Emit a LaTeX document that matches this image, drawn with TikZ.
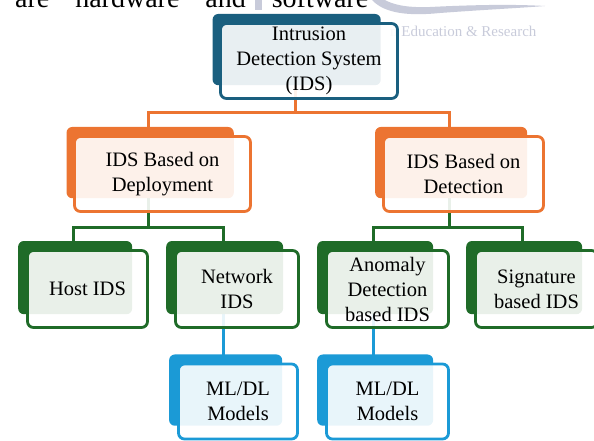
\documentclass[tikz,border=0pt]{standalone}
\usepackage{fontspec}
\setmainfont{Liberation Serif}
\usetikzlibrary{shadows,backgrounds}

\definecolor{idsteal}{RGB}{26,95,127}
\definecolor{idsorange}{RGB}{236,116,49}
\definecolor{idsgreen}{RGB}{31,107,40}
\definecolor{idsblue}{RGB}{27,154,214}
\definecolor{wmgray}{RGB}{200,203,218}

\tikzset{
  box/.style={draw=#1, line width=2.8pt, rounded corners=6pt,
    fill=white, fill opacity=.9, text opacity=1, text=black,
    align=center, inner sep=0pt, font=\fontsize{20.5}{25}\selectfont,
    general shadow={fill=#1, draw=none, fill opacity=1,
      shadow xshift=-13pt, shadow yshift=12pt, shadow scale=.95}},
  link/.style={draw=#1, line width=3pt},
}

\begin{document}
\begin{tikzpicture}[x=1pt, y=-1pt]
    \useasboundingbox (0,0) rectangle (594,441);

    % page behind the chart
    \node[anchor=base west, inner sep=0pt, font=\fontsize{28}{32}\selectfont] (intro) at (15,7.5)
        {\makebox[353pt][s]{are hardware and software}};
    \fill[wmgray] (255,0) rectangle (262,10);
    \fill[wmgray] (372,0) .. controls (385,14) and (410,16) .. (440,13)
        .. controls (480,10) and (520,8) .. (545,6)
        .. controls (510,4) and (470,5) .. (430,7)
        .. controls (405,8) and (392,4) .. (385,0) -- cycle;
    \node[anchor=base west, inner sep=0pt, text=wmgray, font=\fontsize{15}{17}\selectfont] (wm) at (390,37)
        {n Education \& Research};

    % draw boxes
    \node[box=idsteal, minimum width=177pt, minimum height=75pt] (ids) at (309,61) {Intrusion\\Detection System\\(IDS)};

    \node[box=idsorange, minimum width=176pt, minimum height=75pt] (dep) at (162.5,174) {IDS Based on\\Deployment};
    \node[box=idsorange, minimum width=160pt, minimum height=75pt] (det) at (463.5,174) {IDS Based on\\Detection};

    \node[box=idsgreen, minimum width=120pt, minimum height=77pt] (host) at (87.5,289) {Host IDS};
    \node[box=idsgreen, minimum width=123pt, minimum height=77pt] (net) at (237,289) {Network\\IDS};
    \node[box=idsgreen, minimum width=122pt, minimum height=77pt] (ano) at (387.5,289) {Anomaly\\Detection\\based IDS};
    \node[box=idsgreen, minimum width=122pt, minimum height=77pt] (sig) at (536.5,289) {Signature\\based IDS};

    \node[box=idsblue, minimum width=119pt, minimum height=75pt] (mla) at (238,401.5) {ML/DL\\Models};
    \node[box=idsblue, minimum width=122pt, minimum height=75pt] (mlb) at (387.5,401.5) {ML/DL\\Models};

    % draw lines
    \begin{scope}[on background layer]
        \path ([xshift=-14pt]ids.center) ++(0,52) coordinate (jtop);
        \path ([xshift=-14pt]dep.center) ++(0,53) coordinate (jdep);
        \path ([xshift=-14pt]det.center) ++(0,53) coordinate (jdet);

        \draw[link=idsorange] ([xshift=-14pt]ids.center) -- (jtop);
        \draw[link=idsorange] ([xshift=-14pt]dep.center) |- (jtop) -| ([xshift=-14pt]det.center);

        \draw[link=idsgreen] ([xshift=-14pt]dep.center) -- (jdep);
        \draw[link=idsgreen] ([xshift=-14pt]host.center) |- (jdep) -| ([xshift=-14pt]net.center);
        \draw[link=idsgreen] ([xshift=-14pt]det.center) -- (jdet);
        \draw[link=idsgreen] ([xshift=-14pt]ano.center) |- (jdet) -| ([xshift=-14pt]sig.center);

        \draw[link=idsblue] ([xshift=-14pt]net.center) -- ([xshift=-14pt]net.center |- mla.center);
        \draw[link=idsblue] ([xshift=-14pt]ano.center) -- ([xshift=-14pt]ano.center |- mlb.center);
    \end{scope}
\end{tikzpicture}
\end{document}
